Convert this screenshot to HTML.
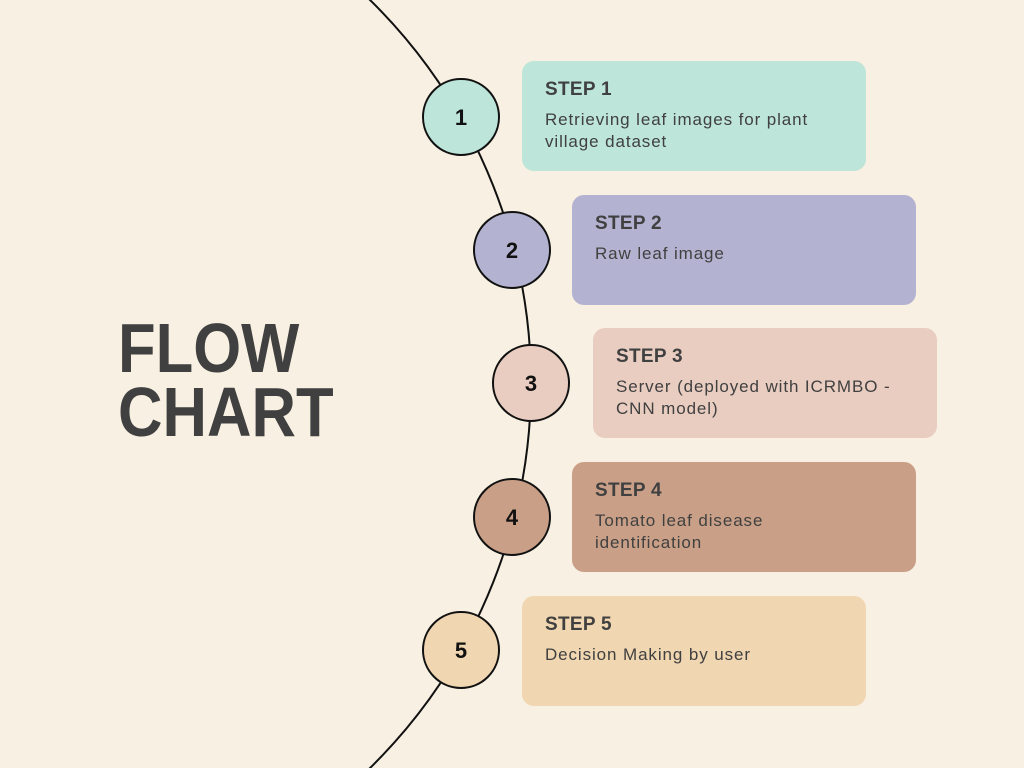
<!DOCTYPE html>
<html><head><style>
html,body{margin:0;width:1024px;height:768px;overflow:hidden}
body{background:#f8f0e2;position:relative;font-family:"Liberation Sans",sans-serif;color:#404040}
.box{position:absolute;width:344px;height:110px;border-radius:12px;box-sizing:border-box;padding:17px 23px}
.box b{display:block;font-size:19px;line-height:24px;margin-bottom:7px;letter-spacing:0.3px}
.box span{font-size:17px;line-height:22px;display:block;letter-spacing:0.9px;max-width:290px}
.t{position:absolute;left:118px;top:316px;font-weight:bold;font-size:70px;line-height:64px;transform:scaleX(0.88);transform-origin:0 0}
</style></head><body>
<svg width="1024" height="768" style="position:absolute;left:0;top:0;display:block">
<circle cx="-7.5" cy="384" r="538.5" fill="none" stroke="#111" stroke-width="2"/>
<g stroke="#111" stroke-width="2">
<circle cx="461" cy="117" r="38" fill="#bde5da"/>
<circle cx="512" cy="250" r="38" fill="#b3b3d1"/>
<circle cx="531" cy="383" r="38" fill="#e9cdc1"/>
<circle cx="512" cy="517" r="38" fill="#c9a087"/>
<circle cx="461" cy="650" r="38" fill="#f0d6b1"/>
</g>
<g font-family="Liberation Sans" font-weight="bold" font-size="22" text-anchor="middle" fill="#111">
<text x="461" y="125">1</text><text x="512" y="258">2</text><text x="531" y="391">3</text><text x="512" y="525">4</text><text x="461" y="658">5</text>
</g>
</svg>
<div class="t">FLOW<br>CHART</div>
<div class="box" style="left:522px;top:61px;background:#bde5da"><b>STEP 1</b><span>Retrieving leaf images for plant village dataset</span></div>
<div class="box" style="left:572px;top:195px;background:#b3b3d1"><b>STEP 2</b><span>Raw leaf image</span></div>
<div class="box" style="left:593px;top:328px;background:#e9cdc1"><b>STEP 3</b><span>Server (deployed with ICRMBO - CNN model)</span></div>
<div class="box" style="left:572px;top:462px;background:#c9a087"><b>STEP 4</b><span style="max-width:200px">Tomato leaf disease identification</span></div>
<div class="box" style="left:522px;top:596px;background:#f0d6b1"><b>STEP 5</b><span>Decision Making by user</span></div>
</body></html>
